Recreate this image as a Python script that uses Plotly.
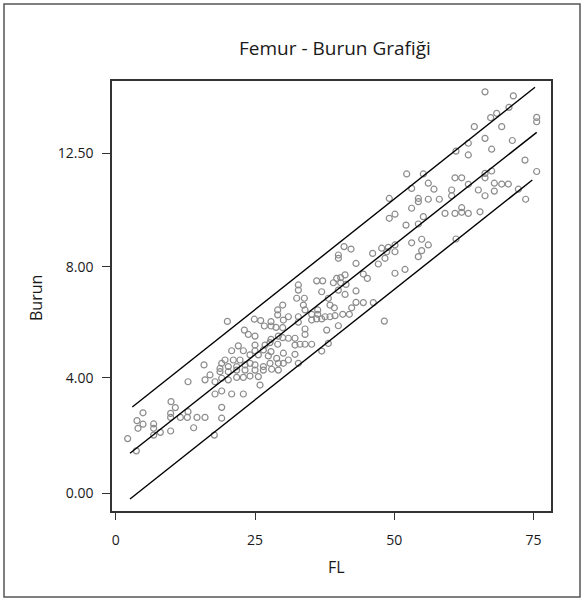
import plotly.graph_objects as go

# ---- data ----
fl = [
    12.98, 9.93, 10.70, 4.90, 9.86, 12.98, 9.86, 11.60, 12.86, 14.59, 3.82, 4.90, 6.81, 4.00, 6.81, 13.99, 8.01, 9.86, 6.81, 2.15, 3.70,
    29.07, 29.07, 24.88, 26.02, 27.87, 20.04, 26.68, 27.87, 28.77, 23.09, 23.80, 25.00, 29.19, 27.87, 29.07, 22.01, 25.00, 26.80, 27.69,
    20.81, 22.91, 25.00, 26.50, 27.87, 24.10, 25.60, 27.39, 28.89, 15.85, 19.02, 19.62, 21.11, 22.31, 18.72, 20.21, 21.71, 23.21, 24.10,
    25.00, 26.50, 27.69, 29.19, 16.92, 18.72, 20.21, 21.71, 23.21, 25.00, 26.50, 27.99, 29.19, 16.03, 17.82, 19.02, 20.21, 21.71, 22.91,
    24.10, 25.60, 17.82, 19.02, 20.81, 22.91, 25.90, 19.02, 16.03, 19.02, 17.70,
    40.98, 42.23, 39.96, 39.96, 43.13, 41.16, 40.38, 39.66, 39.06, 36.07, 37.15, 32.78, 40.38, 41.33, 32.78, 36.97, 43.13, 39.96, 41.16,
    32.48, 33.86, 38.16, 33.68, 38.46, 39.24, 42.35, 29.97, 33.98, 36.25, 35.17, 36.25, 40.74, 41.93, 43.13, 30.99, 32.78, 37.57, 38.46,
    39.36, 30.09, 32.78, 35.17, 36.07, 36.97, 39.96, 33.98, 37.87, 33.98, 29.97, 29.97, 30.99, 32.18, 33.08, 33.98, 35.17, 38.16, 32.18,
    36.97, 30.09, 32.18, 30.99, 30.09, 32.78,
    52.22, 55.21, 56.10, 53.11, 57.12, 49.10, 54.31, 54.31, 56.10, 58.08, 53.11, 50.12, 49.10, 55.21, 52.10, 54.31, 53.11, 54.91, 56.10,
    46.11, 47.73, 48.92, 50.12, 48.63, 50.12, 48.33, 47.13, 54.91, 54.31, 44.44, 45.16, 50.12, 51.92, 44.44, 46.23, 48.21,
    67.29, 64.36, 66.28, 63.28, 61.07, 63.28, 67.47, 60.89, 62.09, 63.28, 66.28, 67.47, 66.28, 65.08, 60.29, 60.29, 66.28, 59.10, 60.89,
    62.09, 62.09, 63.28, 65.38, 61.07, 67.95, 67.95,
    71.36, 70.58, 68.37, 69.27, 75.55, 75.55, 71.18, 73.45, 75.55, 72.26, 73.57, 69.27, 70.46, 66.28,
]
burun = [
    4.10, 3.37, 3.15, 2.96, 2.94, 3.00, 2.79, 2.79, 2.79, 2.79, 2.67, 2.54, 2.55, 2.39, 2.39, 2.41, 2.24, 2.29, 2.14, 2.01, 1.56,
    6.74, 6.56, 6.40, 6.35, 6.31, 6.32, 6.15, 6.15, 6.10, 6.00, 5.84, 5.78, 5.78, 5.66, 5.48, 5.42, 5.45, 5.45, 5.54,
    5.24, 5.24, 5.24, 5.27, 5.21, 5.09, 5.09, 5.05, 4.96, 4.72, 4.78, 4.90, 4.90, 4.90, 4.59, 4.66, 4.66, 4.72, 4.78,
    4.72, 4.66, 4.78, 4.78, 4.35, 4.47, 4.47, 4.53, 4.53, 4.53, 4.53, 4.56, 4.53, 4.17, 4.10, 4.23, 4.17, 4.26, 4.26,
    4.31, 4.29, 3.65, 3.76, 3.65, 3.65, 3.98, 3.16, 2.79, 2.76, 2.14,
    9.07, 8.98, 8.76, 8.64, 8.45, 8.03, 7.93, 7.90, 7.74, 7.81, 7.81, 7.66, 7.74, 7.68, 7.47, 7.41, 7.44, 7.47, 7.31,
    7.17, 7.17, 7.17, 6.92, 6.92, 6.82, 6.82, 6.92, 6.74, 6.74, 6.58, 6.58, 6.58, 6.58, 7.02, 6.49, 6.49, 6.49, 6.49,
    6.53, 6.37, 6.29, 6.37, 6.41, 6.41, 6.16, 6.04, 6.00, 5.84, 6.09, 5.72, 5.70, 5.70, 5.48, 5.48, 5.48, 5.51, 5.45,
    5.23, 5.15, 5.11, 4.90, 4.78, 4.78,
    11.74, 11.74, 11.40, 11.21, 11.18, 10.84, 10.84, 10.72, 10.81, 10.81, 10.48, 10.26, 10.11, 10.17, 9.86, 9.90, 9.21, 9.34, 9.13,
    8.82, 9.01, 9.04, 9.13, 8.88, 8.88, 8.64, 8.43, 8.92, 8.70, 8.06, 7.90, 8.09, 8.23, 7.01, 7.01, 6.33,
    13.81, 13.48, 13.05, 12.87, 12.58, 12.44, 12.65, 11.60, 11.60, 11.36, 11.76, 11.85, 11.60, 11.15, 11.15, 10.94, 10.94, 10.29, 10.29,
    10.33, 10.50, 10.29, 10.35, 9.35, 11.40, 11.11,
    14.61, 14.19, 13.97, 13.48, 13.82, 13.66, 12.97, 12.25, 11.83, 11.18, 10.81, 11.37, 11.37, 14.76,
]

# fitted line and prediction bounds (end points)
fit_x = [2.57, 75.55]
fit_y = [1.47, 13.27]
upper_x = [2.98, 75.25]
upper_y = [3.17, 14.93]
lower_x = [2.57, 74.77]
lower_y = [-0.21, 11.52]

x_tick_vals = [0, 25, 50, 75]
x_tick_text = ["0", "25", "50", "75"]
y_tick_vals = [0, 4.25, 8.33, 12.5]
y_tick_text = ["0.00", "4.00", "8.00", "12.50"]

FONT = "Open Sans"
TXT = "#1a1a1a"

fig = go.Figure()
fig.add_trace(go.Scatter(
    x=fl, y=burun, mode="markers",
    marker=dict(symbol="circle-open", size=6, color="#8c8c8c", line=dict(width=1.2, color="#8c8c8c")),
    showlegend=False, hoverinfo="x+y"))
for lx, ly in [(upper_x, upper_y), (fit_x, fit_y), (lower_x, lower_y)]:
    fig.add_trace(go.Scatter(x=lx, y=ly, mode="lines",
                             line=dict(color="black", width=1.4), showlegend=False))

# pixel helpers for paper coords (plot area 112..551 x, 81..511 y)
L, R, T, B = 112, 551, 81, 511
def px(xp):
    return (xp - L) / (R - L)
def py(yp):
    return (B - yp) / (B - T)

fig.update_layout(
    width=585, height=601,
    margin=dict(l=L, r=585 - R, t=T, b=601 - B, pad=0),
    paper_bgcolor="white", plot_bgcolor="white",
    font=dict(family=FONT, color=TXT, size=14),
    xaxis=dict(range=[-0.664, 78.12], tickvals=x_tick_vals, ticktext=x_tick_text,
               showgrid=False, zeroline=False, showline=True, linecolor="#333333", linewidth=1.5,
               mirror=True, ticks="outside", ticklen=7, tickwidth=1.2, tickcolor="#333333",
               ticklabelstandoff=8, tickfont=dict(size=14, family=FONT, color=TXT)),
    yaxis=dict(range=[-0.651, 15.158], tickvals=y_tick_vals, ticktext=y_tick_text,
               showgrid=False, zeroline=False, showline=True, linecolor="#333333", linewidth=1.5,
               mirror=True, ticks="outside", ticklen=8, tickwidth=1.2, tickcolor="#333333",
               ticklabelstandoff=6, tickfont=dict(size=14, family=FONT, color=TXT)),
    shapes=[dict(type="rect", xref="paper", yref="paper",
                 x0=px(4), x1=px(580), y0=py(597), y1=py(4),
                 line=dict(color="#555555", width=1.5), fillcolor="rgba(0,0,0,0)", layer="below")],
    annotations=[
        dict(text="Femur - Burun Grafiği", xref="paper", yref="paper", x=px(335), y=py(48),
             showarrow=False, xanchor="center", yanchor="middle", font=dict(size=19, family=FONT, color=TXT)),
        dict(text="FL", xref="paper", yref="paper", x=px(336), y=py(567),
             showarrow=False, xanchor="center", yanchor="middle", font=dict(size=16, family=FONT, color=TXT)),
        dict(text="Burun", xref="paper", yref="paper", x=px(36), y=py(298), textangle=-90,
             showarrow=False, xanchor="center", yanchor="middle", font=dict(size=16, family=FONT, color=TXT)),
    ],
)

fig.write_html("out.html", config={"displayModeBar": False},
               post_script="document.body.style.margin='0';document.body.style.overflow='hidden';")
